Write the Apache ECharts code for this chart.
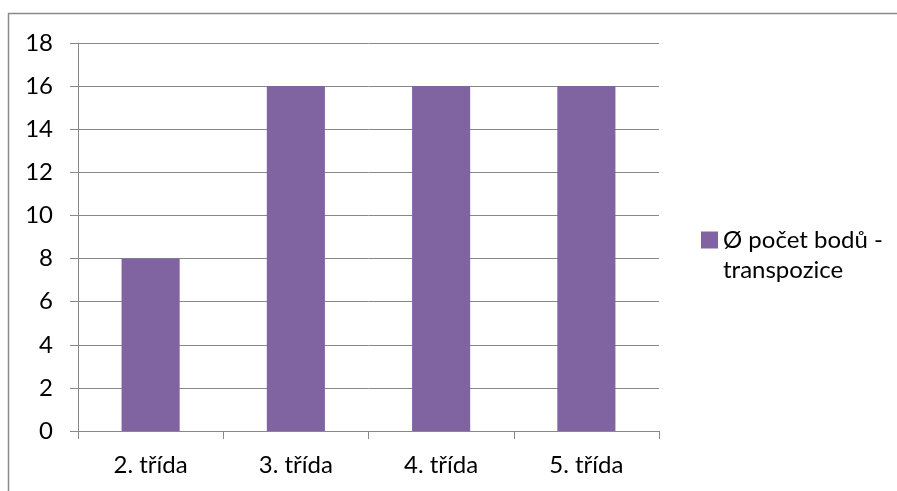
<!DOCTYPE html>
<html>
<head>
<meta charset="utf-8">
<script src="https://cdn.jsdelivr.net/npm/echarts@6/dist/echarts.min.js"></script>
<style>
  html, body { margin: 0; padding: 0; background: #ffffff; }
  #chart { width: 897px; height: 491px; }
</style>
</head>
<body>
<div id="chart"></div>
<script>
// Average points per class for the transposition task
const categories = ['2. třída', '3. třída', '4. třída', '5. třída'];
const seriesName = 'Ø počet bodů -\ntranspozice';
const values = [8, 16, 16, 16];
const yTicks = { min: 0, max: 18, interval: 2 };

const FONT = 'Lato';
const FONT_SIZE = 24;
const GRID_GRAY = '#888888';
const BAR_COLOR = '#8064A2';

const chart = echarts.init(document.getElementById('chart'), null, { renderer: 'canvas' });

chart.setOption({
  animation: false,
  backgroundColor: '#ffffff',
  grid: { left: 78, right: 238, top: 43, bottom: 60, containLabel: false },
  graphic: [{
    type: 'rect',
    silent: true,
    shape: { x: 8.5, y: 13.5, width: 1000, height: 600 },
    style: { fill: 'none', stroke: '#8a8a8a', lineWidth: 1.5 }
  }],
  legend: {
    show: true,
    orient: 'vertical',
    left: 701,
    top: 195,
    padding: 0,
    itemWidth: 17,
    itemHeight: 17,
    icon: 'rect',
    selectedMode: false,
    // leading blank line keeps the key square level with the first text line
    formatter: name => '\n' + name,
    textStyle: {
      fontFamily: FONT,
      fontSize: FONT_SIZE,
      color: '#000000',
      lineHeight: 30
    },
    data: [seriesName]
  },
  xAxis: {
    type: 'category',
    data: categories,
    axisLine: { show: true, lineStyle: { color: GRID_GRAY, width: 1 } },
    axisTick: { show: true, length: 8, lineStyle: { color: GRID_GRAY } },
    axisLabel: { fontFamily: FONT, fontSize: FONT_SIZE, color: '#000000', margin: 22 },
    splitLine: { show: false }
  },
  yAxis: {
    type: 'value',
    min: yTicks.min,
    max: yTicks.max,
    interval: yTicks.interval,
    axisLine: { show: true, lineStyle: { color: GRID_GRAY, width: 1 } },
    axisTick: { show: true, length: 8, lineStyle: { color: GRID_GRAY } },
    axisLabel: { fontFamily: FONT, fontSize: FONT_SIZE, color: '#000000', margin: 25 },
    splitLine: { show: true, lineStyle: { color: GRID_GRAY, width: 1 } }
  },
  series: [{
    name: seriesName,
    type: 'bar',
    data: values,
    barWidth: '40%',
    itemStyle: { color: BAR_COLOR },
    emphasis: { disabled: true }
  }]
});
</script>
</body>
</html>
